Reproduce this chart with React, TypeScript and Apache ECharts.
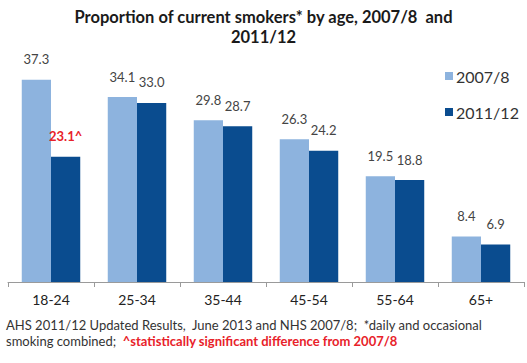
import React, { useEffect, useRef } from "react";
import * as echarts from "echarts";

const categories = ["18-24", "25-34", "35-44", "45-54", "55-64", "65+"];
const seriesNames = ["2007/8", "2011/12"];
const values2007 = [37.3, 34.1, 29.8, 26.3, 19.5, 8.4];
const values2011 = [23.1, 33.0, 28.7, 24.2, 18.8, 6.9];
const significant = [true, false, false, false, false, false];

const FONT = "Lato, 'Open Sans', sans-serif";

export default function App() {
  const ref = useRef<HTMLDivElement>(null);
  useEffect(() => {
    if (!ref.current) return;
    const chart = echarts.init(ref.current, undefined, { renderer: "svg" });
    chart.setOption({
      animation: false,
      backgroundColor: "#ffffff",
      title: {
        text: "Proportion of current smokers* by age, 2007/8  and\n2011/12",
        left: "center",
        top: 2,
        textStyle: {
          fontFamily: FONT,
          fontSize: 16.5,
          fontWeight: "bold",
          color: "#1a1a1a",
          lineHeight: 20,
        },
      },
      legend: {
        orient: "vertical",
        left: 440,
        top: 63,
        itemGap: 20,
        itemWidth: 8,
        itemHeight: 8,
        icon: "rect",
        textStyle: { fontFamily: FONT, fontSize: 16, color: "#333", padding: [0, 0, 0, -2] },
        data: seriesNames,
      },
      grid: { left: 8, right: 3, top: 65, bottom: 81 },
      xAxis: {
        type: "category",
        data: categories,
        axisLine: { lineStyle: { color: "#9a9a9a" } },
        axisTick: { show: true, lineStyle: { color: "#9a9a9a" }, length: 5 },
        axisLabel: { fontFamily: FONT, fontSize: 14, color: "#222", margin: 10 },
      },
      yAxis: {
        type: "value",
        min: 0,
        max: 40,
        show: false,
        splitLine: { show: false },
      },
      series: [
        {
          name: seriesNames[0],
          type: "bar",
          data: values2007,
          barWidth: "34%",
          barGap: "0%",
          itemStyle: { color: "#8db3de" },
          label: {
            show: true,
            position: "top",
            distance: 14,
            fontFamily: FONT,
            fontSize: 13,
            color: "#444",
            formatter: (p: any) => p.value.toFixed(1),
          },
        },
        {
          name: seriesNames[1],
          type: "bar",
          data: values2011.map((v, i) =>
            significant[i]
              ? {
                  value: v,
                  label: {
                    color: "#e8222a",
                    fontWeight: "bold",
                    formatter: (p: any) => p.value.toFixed(1) + "^",
                  },
                }
              : v
          ),
          barWidth: "34%",
          itemStyle: { color: "#0a4c8f" },
          label: {
            show: true,
            position: "top",
            distance: 14,
            fontFamily: FONT,
            fontSize: 13,
            color: "#444",
            formatter: (p: any) => p.value.toFixed(1),
          },
        },
      ],
      graphic: [
        {
          type: "text",
          left: 6,
          top: 318,
          style: {
            text: "AHS 2011/12 Updated Results,  June 2013 and NHS 2007/8;  *daily and occasional",
            fontFamily: FONT,
            fontSize: 13,
            fill: "#333",
          },
        },
        {
          type: "text",
          left: 6,
          top: 334,
          style: {
            rich: {
              a: { fontFamily: FONT, fontSize: 13, fill: "#333", color: "#333" },
              b: { fontFamily: FONT, fontSize: 13, fontWeight: "bold", fill: "#e8222a", color: "#e8222a" },
            },
            text: "{a|smoking combined;  }{b|^statistically significant difference from 2007/8}",
          },
        },
      ],
    });
    return () => chart.dispose();
  }, []);
  return (
    <div
      ref={ref}
      style={{ position: "absolute", left: 0, top: 0, width: 527, height: 363 }}
    />
  );
}
